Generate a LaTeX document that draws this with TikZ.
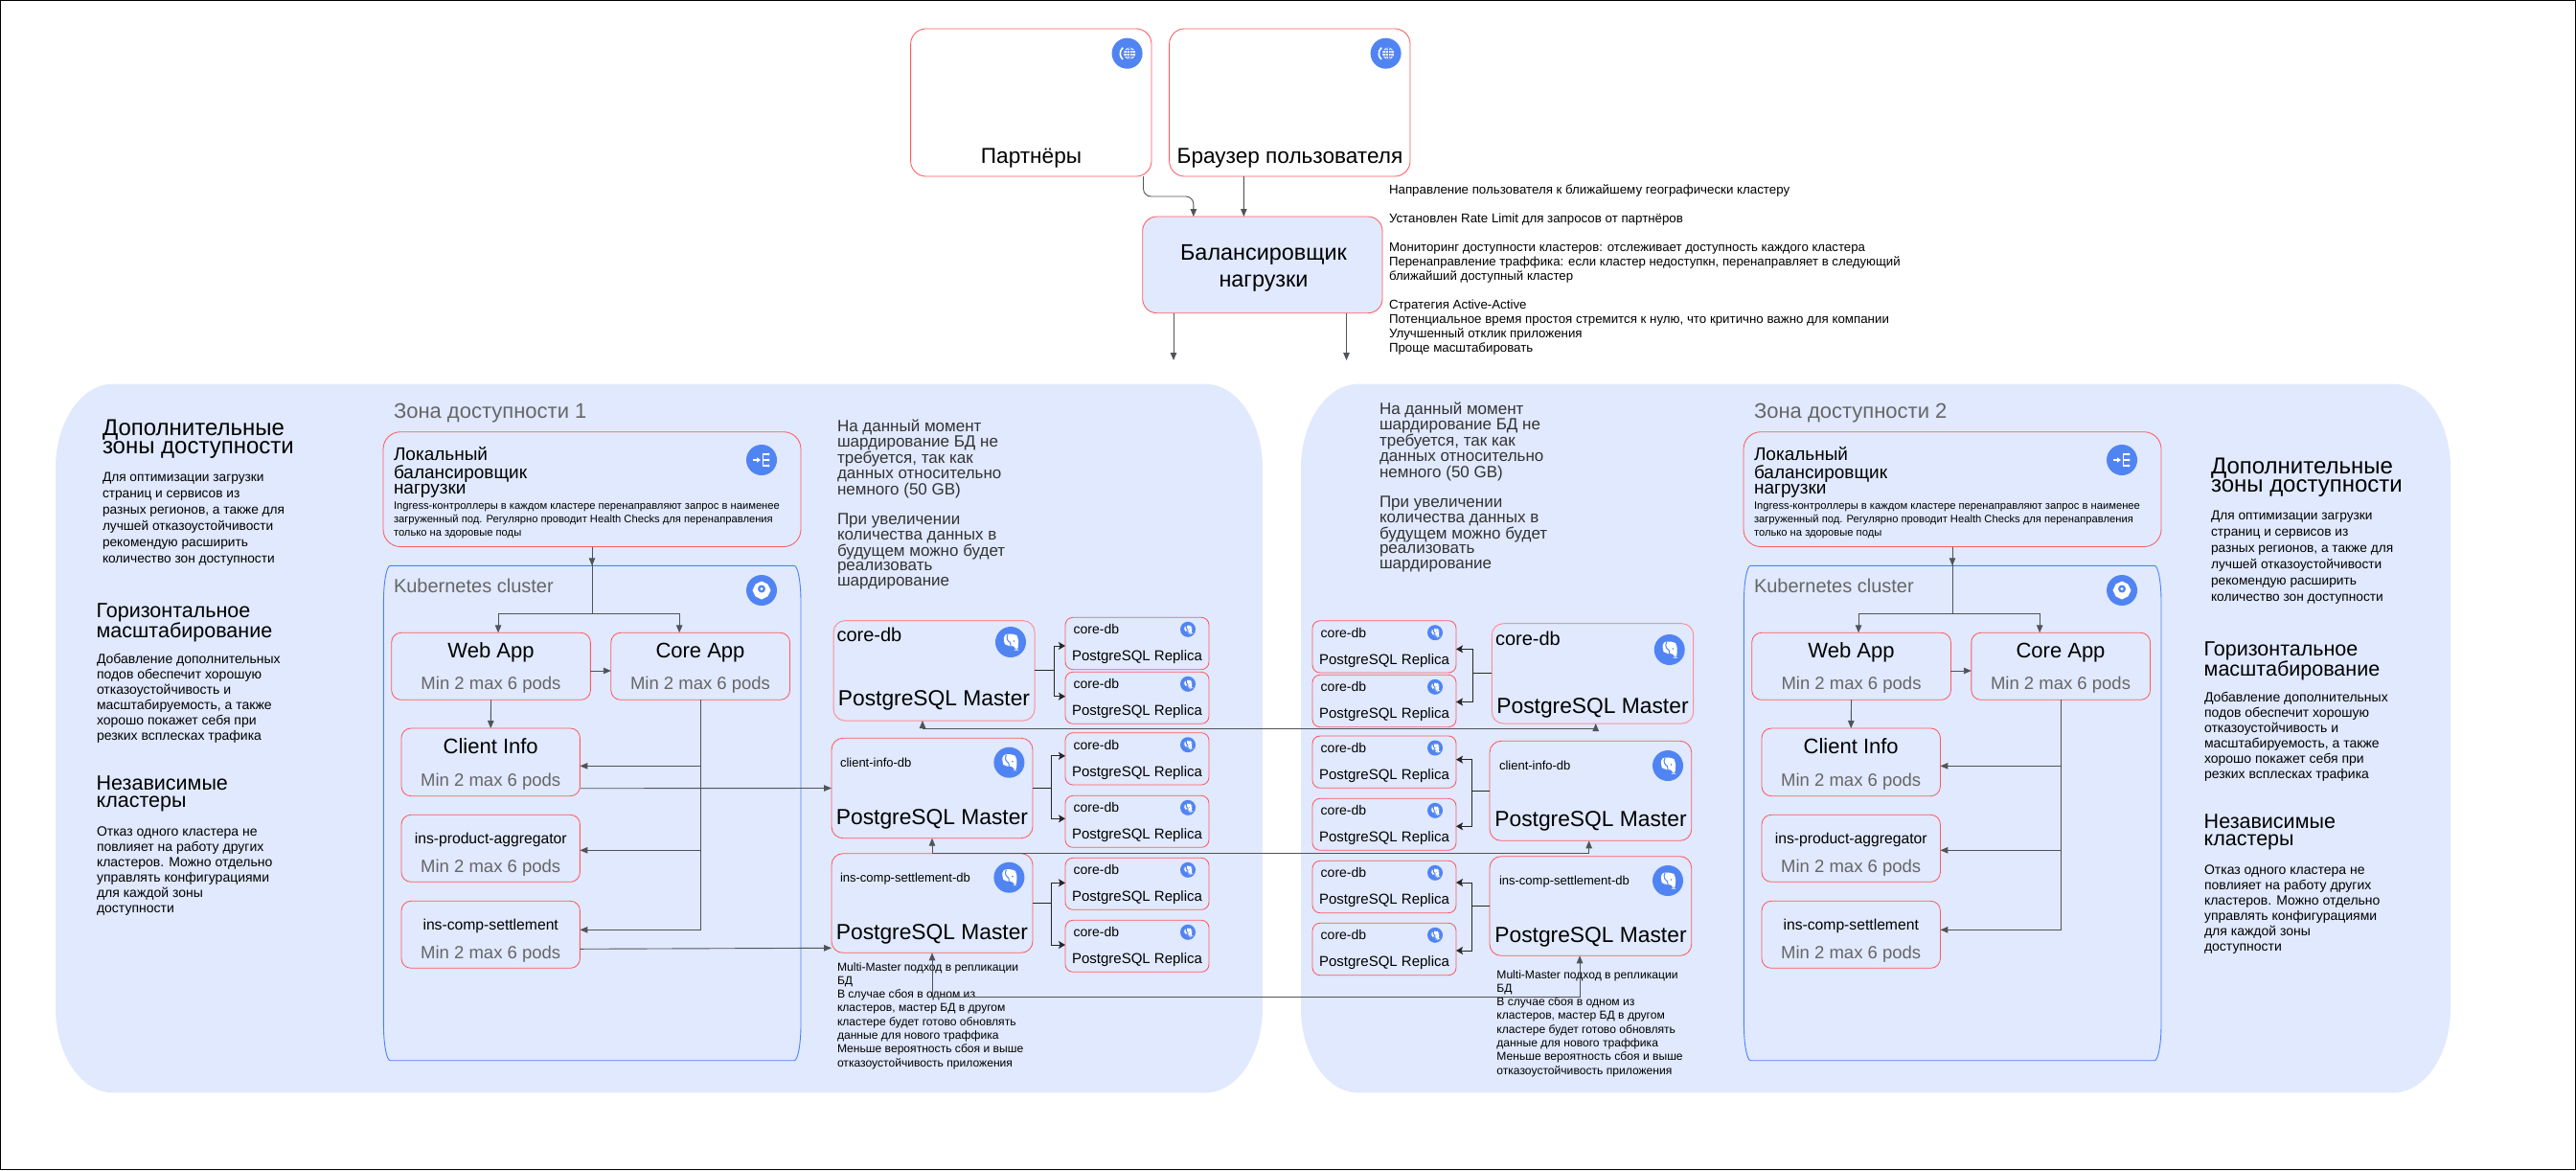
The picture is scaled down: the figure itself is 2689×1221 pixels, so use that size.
\documentclass[tikz,border=0pt]{standalone}
\usepackage{fontspec}
\setmainfont{Liberation Sans}
\usetikzlibrary{arrows.meta}
\definecolor{zonefill}{HTML}{E0E9FD}
\definecolor{redline}{HTML}{FF5A5F}
\definecolor{pinkline}{HTML}{FF8F98}
\definecolor{blueline}{HTML}{4D80FF}
\definecolor{iconblue}{HTML}{5184F3}
\definecolor{conncol}{HTML}{505358}
\definecolor{graytxt}{HTML}{666666}
\definecolor{darktxt}{HTML}{333333}
\tikzset{
  rbox/.style={draw=redline,line width=.85pt,inner sep=0pt,outer sep=0pt},
  wbox/.style={rbox,fill=white,rounded corners=16pt},
  lbbox/.style={rbox,rounded corners=18pt},
  appbox/.style={rbox,rounded corners=10pt},
  masterbox/.style={rbox,rounded corners=12pt},
  pinkmaster/.style={masterbox,draw=pinkline,line width=1pt},
  replbox/.style={rbox,rounded corners=8pt},
  iconnode/.style={circle,fill=iconblue,inner sep=0pt,outer sep=0pt},
  txt/.style={inner sep=0pt,outer sep=0pt},
  conn/.style={draw=conncol,line width=.9pt},
  arr/.style={conn,-{Stealth[length=8pt,width=6.5pt,inset=0pt]}},
  bidir/.style={conn,{Stealth[length=8pt,width=6.5pt,inset=0pt]}-{Stealth[length=8pt,width=6.5pt,inset=0pt]}},
  dbarr/.style={draw=black!85,line width=1pt,-{Stealth[length=7pt,width=8pt,inset=1.5pt]}},
}
\newcounter{lbl}
\newcommand\txtM[6]{\stepcounter{lbl}\node[txt,text=#5,anchor=base west] (t\thelbl) at ({#1},{#2+0.33*#3}) {\fontsize{#3}{#4}\selectfont\begin{tabular}[t]{@{}l@{}}#6\end{tabular}};}
\newcommand\txtC[6]{\stepcounter{lbl}\node[txt,text=#5,anchor=base] (t\thelbl) at ({#1},{#2+0.33*#3}) {\fontsize{#3}{#4}\selectfont\begin{tabular}[t]{@{}c@{}}#6\end{tabular}};}
\newcommand\bx[6][]{\node[#2,#1,anchor=north west,minimum width={(#5-#3)*1pt},minimum height={(#6-#4)*1pt}]}
\newcommand\ellbox[7]{\draw[#7] ({#1+#5},#2) -- ({#3-#5},#2) arc[start angle=90,end angle=0,x radius=#5pt,y radius=#6pt] -- (#3,{#4-#6}) arc[start angle=0,end angle=-90,x radius=#5pt,y radius=#6pt] -- ({#1+#5},#4) arc[start angle=-90,end angle=-180,x radius=#5pt,y radius=#6pt] -- (#1,{#2+#6}) arc[start angle=180,end angle=90,x radius=#5pt,y radius=#6pt] -- cycle;}
% glyphs, drawn for an icon of radius 16
\newcommand\glyphglobe{%
  \fill[white] (2.5,0) circle (6);
  \draw[iconblue,line width=.6pt] (2.5,-6) -- (2.5,6) (-3.5,0) -- (8.5,0) (-2.5,-3) -- (7.5,-3) (-2.5,3) -- (7.5,3);
  \draw[iconblue,line width=.6pt] (2.5,0) ellipse (3 and 6);
  \draw[white,line width=1.6pt] (-4.5,-6) arc[start angle=130,end angle=230,radius=8pt];
}
\newcommand\glyphlb{%
  \draw[white,line width=1.6pt,-{Stealth[length=4pt,width=5pt,inset=0pt]}] (-9,0) -- (-1,0);
  \draw[white,line width=1.4pt] (7,-6) -- (1.5,-6) -- (1.5,6) -- (7,6) (1.5,0) -- (7,0);
  \fill[white] (7,-6) circle (1.5) (7,0) circle (1.5) (7,6) circle (1.5);
}
\newcommand\glyphkube{%
  \fill[white] (90:9.5) -- (45:9) -- (0:9.5) -- (-45:9) -- (-90:9.5) -- (-135:9) -- (180:9.5) -- (135:9) -- cycle;
  \fill[iconblue] (0,-1.5) circle (4);
  \fill[white] (0,-1.5) circle (1.7);
}
\newcommand\glyphpg{%
  \fill[white,rounded corners=3.5pt] (-6.5,-8.5) -- (4.5,-8.5) -- (8,-5) -- (8,4) -- (7,8.5) -- (5,8.5) -- (5,4) -- (1,4) -- (-4.5,4) -- (-7.5,0) -- cycle;
  \draw[iconblue,line width=1pt] (-3,-8) .. controls (-5.5,-3.5) and (-2.5,-.5) .. (-.5,.5) .. controls (0,2) and (0,3) .. (0,4);
  \fill[iconblue] (3.5,-1) circle (.9);
}
\newcommand\icon[5]{\node[iconnode,minimum size={2*#4*1pt}] (#1) at (#2,#3) {};
  \begin{scope}[shift={(#2,#3)},scale={#4/16}]#5\end{scope}}
% replica box with its texts and icon; \rx is its right edge, \ry and \ryb its top and bottom
\newcommand\replica[2]{\bx{replbox}{#2}{\ry}{\rx}{\ryb} (#1) at (#2,\ry) {};
  \txtM{#2+8.7}{\ry+12.7}{14}{14}{black}{core-db}\txtC{(#2+\rx)/2}{\ry+40.6}{15}{16}{black}{PostgreSQL Replica}\icon{#1i}{\rx-22}{\ry+12.5}{8}{\glyphpg}}
\newcommand\minpods[2]{\txtC{#1}{#2}{18.5}{20}{graytxt}{Min 2 max 6 pods}}
% contents common to both zones
\newcommand\zoneapp[1]{%
  \txtM{411}{429}{22}{24}{graytxt}{Зона доступности #1}
  \ellbox{400.4}{590.3}{836}{1106.7}{7}{38}{draw=blueline,line width=.9pt}
  \bx{lbbox}{400}{450.7}{836}{570.5} (lb) at (400,450.7) {};
  \txtM{411}{474}{19}{16.7}{black}{Локальный\\балансировщик\\нагрузки}
  \txtM{411}{527.7}{11.2}{14}{black}{Ingress-контроллеры в каждом кластере перенаправляют запрос в наименее\\загруженный под. Регулярно проводит Health Checks для перенаправления\\только на здоровые поды}
  \icon{lbi}{795}{480}{16}{\glyphlb}
  \icon{kubei}{795}{616}{16}{\glyphkube}
  \txtM{411}{612}{20}{22}{graytxt}{Kubernetes cluster}
  \bx{appbox}{408.7}{660.3}{616.4}{730.3} (web) at (408.7,660.3) {};
  \txtC{512.5}{679}{22}{24}{black}{Web App}\minpods{512.5}{713.7}
  \bx{appbox}{637.8}{660.3}{824.5}{730.3} (core) at (637.8,660.3) {};
  \txtC{731}{679}{22}{24}{black}{Core App}\minpods{731}{713.7}
  \bx{appbox}{419}{760}{605.4}{830.7} (client) at (419,760) {};
  \txtC{512.2}{779.5}{22}{24}{black}{Client Info}\minpods{512.2}{814}
  \bx{appbox}{419}{850.3}{605.4}{920.3} (prod) at (419,850.3) {};
  \txtC{512.2}{875.3}{15.7}{18}{black}{ins-product-aggregator}\minpods{512.2}{904}
  \bx{appbox}{419}{940.3}{605.4}{1010.3} (settle) at (419,940.3) {};
  \txtC{512.2}{965}{15.7}{18}{black}{ins-comp-settlement}\minpods{512.2}{994}
  \coordinate (split) at (618,640);
  \draw[arr] (lb.south) -- (lb.south |- 0,590.3);
  \draw[conn] (lb.south) -- (split);
  \draw[arr] (split) -| ([xshift=7.5pt]web.north);
  \draw[arr] (split) -| ([xshift=-22pt]core.north);
  \draw[arr] ([yshift=-4.7pt]web.east) -- ([yshift=-4.7pt]core.west);
  \draw[arr] (web.south) -- (client.north);
  \draw[arr] (core.south) |- ([yshift=-4pt]client.east);
  \draw[arr] (core.south) |- ([yshift=-2pt]prod.east);
  \draw[arr] (core.south) |- ([yshift=5pt]settle.east);
}
\newcommand\sidetexts[3]{%
  \txtM{107+#1}{446.7+#3}{24}{19.3}{black}{Дополнительные\\зоны доступности}
  \txtM{107+#1}{498.3+#3}{13.7}{16.9}{black}{Для оптимизации загрузки\\страниц и сервисов из\\разных регионов, а также для\\лучшей отказоустойчивости\\рекомендую расширить\\количество зон доступности}
  \txtM{100.7+#2}{637+#3}{21.5}{18}{black}{Горизонтальное\\масштабирование}
  \txtM{101+#2}{688+#3}{14}{16}{black}{Добавление дополнительных\\подов обеспечит хорошую\\отказоустойчивость и\\масштабируемость, а также\\хорошо покажет себя при\\резких всплесках трафика}
  \txtM{100.7+#2}{817+#3}{21.5}{18.3}{black}{Независимые\\кластеры}
  \txtM{101+#2}{868.3+#3}{14}{16}{black}{Отказ одного кластера не\\повлияет на работу других\\кластеров. Можно отдельно\\управлять конфигурациями\\для каждой зоны\\доступности}
}
\newcommand\shardtext{На данный момент\\шардирование БД не\\требуется, так как\\данных относительно\\немного (50 GB)\\\\При увеличении\\количества данных в\\будущем можно будет\\реализовать\\шардирование}
\newcommand\multitext{Multi-Master подход в репликации\\БД\\В случае сбоя в одном из\\кластеров, мастер БД в другом\\кластере будет готово обновлять\\данные для нового траффика\\Меньше вероятность сбоя и выше\\отказоустойчивость приложения}
\begin{document}
\begin{tikzpicture}[x=1pt,y=-1pt]
\useasboundingbox (0,0) rectangle (2689,1221);
\draw[black,line width=1pt] (0.5,0.5) rectangle (2688.5,1220.5);
% availability zones
\ellbox{58}{400.7}{1318}{1140.3}{60}{88}{fill=zonefill,draw=none}
\ellbox{1358}{400.7}{2558}{1140.3}{60}{88}{fill=zonefill,draw=none}
% top row
\bx{wbox}{950.6}{30}{1202}{184} (partners) at (950.6,30) {};
\bx{wbox}{1220.6}{30}{1472}{184} (browser) at (1220.6,30) {};
\icon{partnersi}{1176.6}{55.7}{16}{\glyphglobe}
\icon{browseri}{1446.6}{55.7}{16}{\glyphglobe}
\txtC{1076.5}{163}{22.6}{26}{black}{Партнёры}
\txtC{1346.5}{163}{22.6}{26}{black}{Браузер пользователя}
\bx[fill=zonefill]{rbox,rounded corners=15pt}{1192.7}{226}{1443}{326.7} (bal) at (1192.7,226) {};
\txtC{1319}{264}{23.4}{27.7}{black}{Балансировщик\\нагрузки}
\txtM{1450}{198}{13.3}{15}{black}{Направление пользователя к ближайшему географически кластеру}
\txtM{1450}{228}{13.3}{15}{black}{Установлен Rate Limit для запросов от партнёров}
\txtM{1450}{258}{13.2}{15}{black}{Мониторинг доступности кластеров: отслеживает доступность каждого кластера\\Перенаправление траффика: если кластер недоступкн, перенаправляет в следующий\\ближайший доступный кластер}
\txtM{1450}{318}{13.3}{15}{black}{Стратегия Active-Active\\Потенциальное время простоя стремится к нулю, что критично важно для компании\\Улучшенный отклик приложения\\Проще масштабировать}
\coordinate (pm) at (1220,205);
\coordinate (out1) at (1225,376);
\coordinate (out2) at (1405.5,376);
\draw[arr,rounded corners=8pt] ([xshift=117.2pt]partners.south) |- (pm) -| ([xshift=-72pt]bal.north);
\draw[arr] ([xshift=-48pt]browser.south) -- ([xshift=-19.5pt]bal.north);
\draw[arr] (out1 |- bal.south) -- (out1);
\draw[arr] (out2 |- bal.south) -- (out2);
% zone contents
\begin{scope}[name prefix=za-]\zoneapp{1}\end{scope}
\begin{scope}[name prefix=zb-,xshift=1420pt]\zoneapp{2}\end{scope}
\sidetexts{0}{0}{0}
\sidetexts{2201}{2200}{40}
\txtM{874}{444.7}{17}{15.43}{darktxt}{\shardtext}
\txtM{1440}{426.7}{17}{15.43}{darktxt}{\shardtext}
% left databases
\bx{pinkmaster}{870}{647.7}{1080}{752} (ma) at (870,647.7) {};
\txtM{873.5}{663}{20}{20}{black}{core-db}\txtC{975}{729}{22.8}{24}{black}{PostgreSQL Master}\icon{mai}{1055}{670}{16}{\glyphpg}
\bx{masterbox}{868}{770.3}{1078}{874.7} (mb) at (868,770.3) {};
\txtM{877}{795.7}{13}{14}{black}{client-info-db}\txtC{973}{852.7}{22.8}{24}{black}{PostgreSQL Master}\icon{mbi}{1053.4}{795.7}{16}{\glyphpg}
\bx{masterbox}{868}{890.7}{1078}{994.3} (mc) at (868,890.7) {};
\txtM{877}{915.7}{13}{14}{black}{ins-comp-settlement-db}\txtC{973}{972.7}{22.8}{24}{black}{PostgreSQL Master}\icon{mci}{1053.4}{915.7}{16}{\glyphpg}
\def\rx{1262}
\def\ry{644.3}\def\ryb{698.7}\replica{ra1}{1112}
\def\ry{701.3}\def\ryb{755.3}\replica{ra2}{1112}
\def\ry{764.7}\def\ryb{819}\replica{rb1}{1112}
\def\ry{830.3}\def\ryb{884.3}\replica{rb2}{1112}
\def\ry{895.3}\def\ryb{949.3}\replica{rc1}{1112}
\def\ry{960.3}\def\ryb{1014.3}\replica{rc2}{1112}
\txtM{874}{1009}{12.1}{14.3}{black}{\multitext}
% right databases
\bx{pinkmaster}{1557.3}{650.7}{1767.7}{755} (md) at (1557.3,650.7) {};
\txtM{1561}{666.7}{20}{20}{black}{core-db}\txtC{1662.5}{737}{22.8}{24}{black}{PostgreSQL Master}\icon{mdi}{1742.7}{678}{16}{\glyphpg}
\bx{masterbox}{1555}{773.3}{1765.7}{877.3} (me) at (1555,773.3) {};
\txtM{1565}{798.7}{13}{14}{black}{client-info-db}\txtC{1660.5}{855.3}{22.8}{24}{black}{PostgreSQL Master}\icon{mei}{1741}{799}{16}{\glyphpg}
\bx{masterbox}{1555}{893.7}{1765.7}{997.3} (mf) at (1555,893.7) {};
\txtM{1565}{918.7}{13}{14}{black}{ins-comp-settlement-db}\txtC{1660.5}{975.7}{22.8}{24}{black}{PostgreSQL Master}\icon{mfi}{1741}{919}{16}{\glyphpg}
\def\rx{1520}
\def\ry{647.7}\def\ryb{702}\replica{rd1}{1370}
\def\ry{704.3}\def\ryb{758.7}\replica{rd2}{1370}
\def\ry{768}\def\ryb{822.3}\replica{re1}{1370}
\def\ry{833.3}\def\ryb{887.3}\replica{re2}{1370}
\def\ry{898.3}\def\ryb{952.7}\replica{rf1}{1370}
\def\ry{963.3}\def\ryb{1017.7}\replica{rf2}{1370}
\txtM{1562.4}{1017}{12.1}{14.3}{black}{\multitext}
% master to replica
\draw[dbarr] (ma.east) -- ++(20,0) |- ([yshift=-2.5pt]ra1.west);
\draw[dbarr] (ma.east) -- ++(20,0) |- ([yshift=1.6pt]ra2.west);
\draw[dbarr] (mb.east) -- ++(19.5,0) |- ([yshift=3pt]rb1.west);
\draw[dbarr] (mb.east) -- ++(19.5,0) |- ([yshift=3pt]rb2.west);
\draw[dbarr] (mc.east) -- ++(19.5,0) |- ([yshift=1pt]rc1.west);
\draw[dbarr] (mc.east) -- ++(19.5,0) |- ([yshift=1.3pt]rc2.west);
\draw[dbarr] (md.west) -- ++(-20,0) |- ([yshift=-2.5pt]rd1.east);
\draw[dbarr] (md.west) -- ++(-20,0) |- ([yshift=-1pt]rd2.east);
\draw[dbarr] (me.west) -- ++(-19,0) |- ([yshift=2.5pt]re1.east);
\draw[dbarr] (me.west) -- ++(-19,0) |- ([yshift=-2pt]re2.east);
\draw[dbarr] (mf.west) -- ++(-19,0) |- ([yshift=4.5pt]rf1.east);
\draw[dbarr] (mf.west) -- ++(-19,0) |- ([yshift=-1.5pt]rf2.east);
% services to databases
\draw[arr] ([yshift=-27.4pt]za-client.east) -- (mb.west);
\draw[arr] ([yshift=-15pt]za-settle.east) -- ([yshift=-46.8pt]mc.west);
% replication between masters
\coordinate (rep1) at (1300,760.7);
\coordinate (rep2) at (1300,890.3);
\coordinate (rep3) at (1300,1040.3);
\draw[bidir] ([xshift=-12pt]ma.south) |- (rep1) -| ([xshift=3.2pt]md.south);
\draw[bidir] (mb.south) |- (rep2) -| ([xshift=-1.7pt]me.south);
\draw[bidir] (mc.south) |- (rep3) -| ([xshift=-11.3pt]mf.south);
\end{tikzpicture}
\end{document}
